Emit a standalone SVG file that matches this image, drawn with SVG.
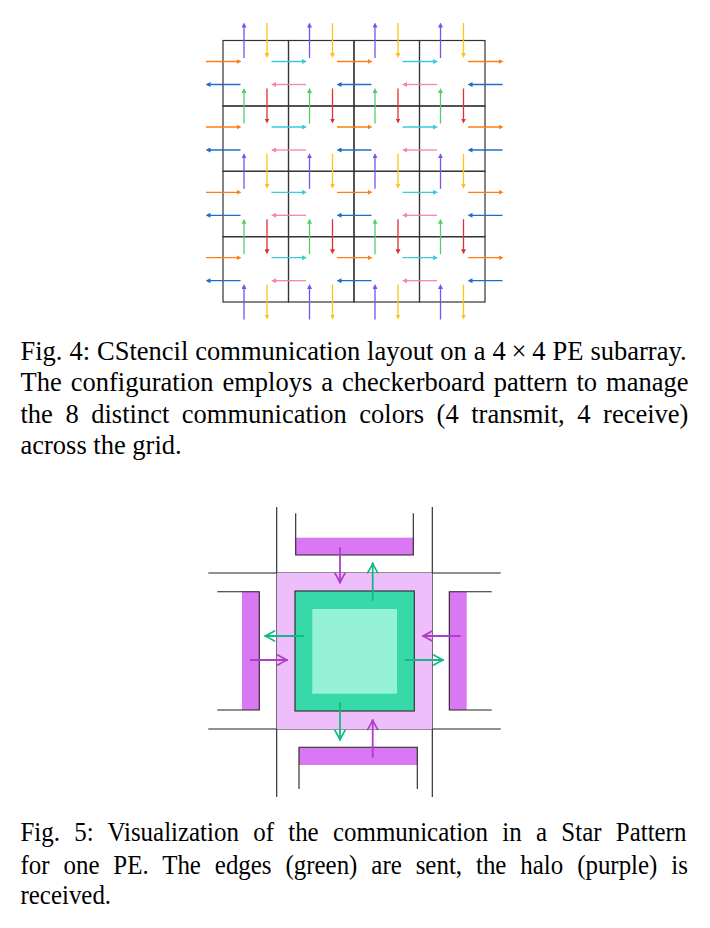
<svg xmlns="http://www.w3.org/2000/svg" width="710" height="928" viewBox="0 0 710 928">
<defs>
<marker id="m-pu" viewBox="0 0 5 5" refX="2" refY="2.5" markerWidth="5" markerHeight="5" markerUnits="userSpaceOnUse" orient="auto"><path d="M0,0 L5,2.5 L0,5 z" fill="#7950f2"/></marker>
<marker id="m-ye" viewBox="0 0 5 5" refX="2" refY="2.5" markerWidth="5" markerHeight="5" markerUnits="userSpaceOnUse" orient="auto"><path d="M0,0 L5,2.5 L0,5 z" fill="#fcc419"/></marker>
<marker id="m-gr" viewBox="0 0 5 5" refX="2" refY="2.5" markerWidth="5" markerHeight="5" markerUnits="userSpaceOnUse" orient="auto"><path d="M0,0 L5,2.5 L0,5 z" fill="#51cf66"/></marker>
<marker id="m-re" viewBox="0 0 5 5" refX="2" refY="2.5" markerWidth="5" markerHeight="5" markerUnits="userSpaceOnUse" orient="auto"><path d="M0,0 L5,2.5 L0,5 z" fill="#e03131"/></marker>
<marker id="m-or" viewBox="0 0 5 5" refX="2" refY="2.5" markerWidth="5" markerHeight="5" markerUnits="userSpaceOnUse" orient="auto"><path d="M0,0 L5,2.5 L0,5 z" fill="#fd7e14"/></marker>
<marker id="m-bl" viewBox="0 0 5 5" refX="2" refY="2.5" markerWidth="5" markerHeight="5" markerUnits="userSpaceOnUse" orient="auto"><path d="M0,0 L5,2.5 L0,5 z" fill="#1c6fc8"/></marker>
<marker id="m-cy" viewBox="0 0 5 5" refX="2" refY="2.5" markerWidth="5" markerHeight="5" markerUnits="userSpaceOnUse" orient="auto"><path d="M0,0 L5,2.5 L0,5 z" fill="#3bc9db"/></marker>
<marker id="m-pi" viewBox="0 0 5 5" refX="2" refY="2.5" markerWidth="5" markerHeight="5" markerUnits="userSpaceOnUse" orient="auto"><path d="M0,0 L5,2.5 L0,5 z" fill="#f783ac"/></marker>
<marker id="v-g" viewBox="-11 -6 12 12" refX="0" refY="0" markerWidth="12" markerHeight="12" markerUnits="userSpaceOnUse" orient="auto"><path d="M-9.5,-5 Q-3,-1.2 0,0 Q-3,1.2 -9.5,5" fill="none" stroke="#12b886" stroke-width="1.7" stroke-linecap="round"/></marker>
<marker id="v-p" viewBox="-11 -6 12 12" refX="0" refY="0" markerWidth="12" markerHeight="12" markerUnits="userSpaceOnUse" orient="auto"><path d="M-9.5,-5 Q-3,-1.2 0,0 Q-3,1.2 -9.5,5" fill="none" stroke="#ae3ec9" stroke-width="1.7" stroke-linecap="round"/></marker>
</defs>
<style>
.pe rect{fill:none;stroke:#333;stroke-width:1.2}
.c4 line{stroke-width:1.3;fill:none}
.pu{stroke:#7950f2;marker-end:url(#m-pu)}
.ye{stroke:#fcc419;marker-end:url(#m-ye)}
.gr{stroke:#51cf66;marker-end:url(#m-gr)}
.re{stroke:#e03131;marker-end:url(#m-re)}
.or{stroke:#fd7e14;marker-end:url(#m-or)}
.bl{stroke:#1c6fc8;marker-end:url(#m-bl)}
.cy{stroke:#3bc9db;marker-end:url(#m-cy)}
.pi{stroke:#f783ac;marker-end:url(#m-pi)}
.cap{font-family:"Liberation Serif","Times New Roman",serif;fill:#000}
.cap4{font-size:26.5px}
.cap5{font-size:28px}
.ln{stroke:#222;stroke-width:1.1;fill:none}
.halo{fill:#eebefa}
.hp{fill:#da77f2}
.edge{fill:#38d9a9;stroke:#333;stroke-width:1.2}
.inner{fill:#96f2d7}
.c5 line{stroke-width:1.8;fill:none}
.ag{stroke:#12b886;marker-end:url(#v-g)}
.ap{stroke:#ae3ec9;marker-end:url(#v-p)}
</style>
<rect width="710" height="928" fill="#fff"/>

<!-- Fig 4: 4x4 PE grid -->
<g id="fig4-grid">
<g id="pe-0-0" class="pe"><rect x="223" y="40.5" width="65.5" height="65.5"/></g>
<g id="pe-0-1" class="pe"><rect x="288.5" y="40.5" width="65.5" height="65.5"/></g>
<g id="pe-0-2" class="pe"><rect x="354" y="40.5" width="65.5" height="65.5"/></g>
<g id="pe-0-3" class="pe"><rect x="419.5" y="40.5" width="65.5" height="65.5"/></g>
<g id="pe-1-0" class="pe"><rect x="223" y="106" width="65.5" height="65.3"/></g>
<g id="pe-1-1" class="pe"><rect x="288.5" y="106" width="65.5" height="65.3"/></g>
<g id="pe-1-2" class="pe"><rect x="354" y="106" width="65.5" height="65.3"/></g>
<g id="pe-1-3" class="pe"><rect x="419.5" y="106" width="65.5" height="65.3"/></g>
<g id="pe-2-0" class="pe"><rect x="223" y="171.3" width="65.5" height="65.4"/></g>
<g id="pe-2-1" class="pe"><rect x="288.5" y="171.3" width="65.5" height="65.4"/></g>
<g id="pe-2-2" class="pe"><rect x="354" y="171.3" width="65.5" height="65.4"/></g>
<g id="pe-2-3" class="pe"><rect x="419.5" y="171.3" width="65.5" height="65.4"/></g>
<g id="pe-3-0" class="pe"><rect x="223" y="236.7" width="65.5" height="65.3"/></g>
<g id="pe-3-1" class="pe"><rect x="288.5" y="236.7" width="65.5" height="65.3"/></g>
<g id="pe-3-2" class="pe"><rect x="354" y="236.7" width="65.5" height="65.3"/></g>
<g id="pe-3-3" class="pe"><rect x="419.5" y="236.7" width="65.5" height="65.3"/></g>
</g>

<g id="fig4-connectors" class="c4">
<!-- purple up -->
<line class="pu" x1="244" y1="58" x2="244" y2="25.5"/><line class="pu" x1="309.5" y1="58" x2="309.5" y2="25.5"/><line class="pu" x1="375" y1="58" x2="375" y2="25.5"/><line class="pu" x1="440.5" y1="58" x2="440.5" y2="25.5"/>
<line class="pu" x1="244" y1="188.8" x2="244" y2="156.3"/><line class="pu" x1="309.5" y1="188.8" x2="309.5" y2="156.3"/><line class="pu" x1="375" y1="188.8" x2="375" y2="156.3"/><line class="pu" x1="440.5" y1="188.8" x2="440.5" y2="156.3"/>
<line class="pu" x1="244" y1="319.5" x2="244" y2="287"/><line class="pu" x1="309.5" y1="319.5" x2="309.5" y2="287"/><line class="pu" x1="375" y1="319.5" x2="375" y2="287"/><line class="pu" x1="440.5" y1="319.5" x2="440.5" y2="287"/>
<!-- yellow down -->
<line class="ye" x1="267" y1="23" x2="267" y2="55"/><line class="ye" x1="332.5" y1="23" x2="332.5" y2="55"/><line class="ye" x1="398" y1="23" x2="398" y2="55"/><line class="ye" x1="463.5" y1="23" x2="463.5" y2="55"/>
<line class="ye" x1="267" y1="153.8" x2="267" y2="185.8"/><line class="ye" x1="332.5" y1="153.8" x2="332.5" y2="185.8"/><line class="ye" x1="398" y1="153.8" x2="398" y2="185.8"/><line class="ye" x1="463.5" y1="153.8" x2="463.5" y2="185.8"/>
<line class="ye" x1="267" y1="284.5" x2="267" y2="316.5"/><line class="ye" x1="332.5" y1="284.5" x2="332.5" y2="316.5"/><line class="ye" x1="398" y1="284.5" x2="398" y2="316.5"/><line class="ye" x1="463.5" y1="284.5" x2="463.5" y2="316.5"/>
<!-- green up -->
<line class="gr" x1="244" y1="123.5" x2="244" y2="91"/><line class="gr" x1="309.5" y1="123.5" x2="309.5" y2="91"/><line class="gr" x1="375" y1="123.5" x2="375" y2="91"/><line class="gr" x1="440.5" y1="123.5" x2="440.5" y2="91"/>
<line class="gr" x1="244" y1="254.2" x2="244" y2="221.7"/><line class="gr" x1="309.5" y1="254.2" x2="309.5" y2="221.7"/><line class="gr" x1="375" y1="254.2" x2="375" y2="221.7"/><line class="gr" x1="440.5" y1="254.2" x2="440.5" y2="221.7"/>
<!-- red down -->
<line class="re" x1="267" y1="88.5" x2="267" y2="120.5"/><line class="re" x1="332.5" y1="88.5" x2="332.5" y2="120.5"/><line class="re" x1="398" y1="88.5" x2="398" y2="120.5"/><line class="re" x1="463.5" y1="88.5" x2="463.5" y2="120.5"/>
<line class="re" x1="267" y1="219.2" x2="267" y2="251.2"/><line class="re" x1="332.5" y1="219.2" x2="332.5" y2="251.2"/><line class="re" x1="398" y1="219.2" x2="398" y2="251.2"/><line class="re" x1="463.5" y1="219.2" x2="463.5" y2="251.2"/>
<!-- orange right -->
<line class="or" x1="206" y1="61.5" x2="238.5" y2="61.5"/><line class="or" x1="206" y1="127" x2="238.5" y2="127"/><line class="or" x1="206" y1="192.3" x2="238.5" y2="192.3"/><line class="or" x1="206" y1="257.7" x2="238.5" y2="257.7"/>
<line class="or" x1="337" y1="61.5" x2="369.5" y2="61.5"/><line class="or" x1="337" y1="127" x2="369.5" y2="127"/><line class="or" x1="337" y1="192.3" x2="369.5" y2="192.3"/><line class="or" x1="337" y1="257.7" x2="369.5" y2="257.7"/>
<line class="or" x1="468" y1="61.5" x2="500.5" y2="61.5"/><line class="or" x1="468" y1="127" x2="500.5" y2="127"/><line class="or" x1="468" y1="192.3" x2="500.5" y2="192.3"/><line class="or" x1="468" y1="257.7" x2="500.5" y2="257.7"/>
<!-- blue left -->
<line class="bl" x1="240.5" y1="84.5" x2="208.5" y2="84.5"/><line class="bl" x1="240.5" y1="150" x2="208.5" y2="150"/><line class="bl" x1="240.5" y1="215.3" x2="208.5" y2="215.3"/><line class="bl" x1="240.5" y1="280.7" x2="208.5" y2="280.7"/>
<line class="bl" x1="371.5" y1="84.5" x2="339.5" y2="84.5"/><line class="bl" x1="371.5" y1="150" x2="339.5" y2="150"/><line class="bl" x1="371.5" y1="215.3" x2="339.5" y2="215.3"/><line class="bl" x1="371.5" y1="280.7" x2="339.5" y2="280.7"/>
<line class="bl" x1="502.5" y1="84.5" x2="470.5" y2="84.5"/><line class="bl" x1="502.5" y1="150" x2="470.5" y2="150"/><line class="bl" x1="502.5" y1="215.3" x2="470.5" y2="215.3"/><line class="bl" x1="502.5" y1="280.7" x2="470.5" y2="280.7"/>
<!-- cyan right -->
<line class="cy" x1="271.5" y1="61.5" x2="304" y2="61.5"/><line class="cy" x1="271.5" y1="127" x2="304" y2="127"/><line class="cy" x1="271.5" y1="192.3" x2="304" y2="192.3"/><line class="cy" x1="271.5" y1="257.7" x2="304" y2="257.7"/>
<line class="cy" x1="402.5" y1="61.5" x2="435" y2="61.5"/><line class="cy" x1="402.5" y1="127" x2="435" y2="127"/><line class="cy" x1="402.5" y1="192.3" x2="435" y2="192.3"/><line class="cy" x1="402.5" y1="257.7" x2="435" y2="257.7"/>
<!-- pink left -->
<line class="pi" x1="306" y1="84.5" x2="274" y2="84.5"/><line class="pi" x1="306" y1="150" x2="274" y2="150"/><line class="pi" x1="306" y1="215.3" x2="274" y2="215.3"/><line class="pi" x1="306" y1="280.7" x2="274" y2="280.7"/>
<line class="pi" x1="437" y1="84.5" x2="405" y2="84.5"/><line class="pi" x1="437" y1="150" x2="405" y2="150"/><line class="pi" x1="437" y1="215.3" x2="405" y2="215.3"/><line class="pi" x1="437" y1="280.7" x2="405" y2="280.7"/>
</g>

<g id="fig4-caption" class="cap cap4">
<text x="20.5" y="359.5" word-spacing="0.35">Fig. 4: CStencil communication layout on a 4<tspan dx="5.8">×</tspan><tspan dx="5.8">4</tspan> PE subarray.</text>
<text x="20.5" y="391.2" word-spacing="2.39">The configuration employs a checkerboard pattern to manage</text>
<text x="20.5" y="422.8" word-spacing="5.94">the 8 distinct communication colors (4 transmit, 4 receive)</text>
<text x="20.5" y="454.4">across the grid.</text>
</g>

<!-- Fig 5: star pattern -->
<g id="fig5-gridlines">
<line class="ln" x1="276.7" y1="507" x2="276.7" y2="797"/>
<line class="ln" x1="432.3" y1="507" x2="432.3" y2="797"/>
<line class="ln" x1="208.3" y1="573" x2="500.7" y2="573"/>
<line class="ln" x1="208.3" y1="729" x2="500.7" y2="729"/>
</g>
<g id="pe-center">
<rect class="halo" x="276.7" y="573" width="155.6" height="156"/>
<rect class="edge" x="295" y="591" width="119.3" height="120"/>
<rect class="inner" x="312.3" y="609" width="84.7" height="84.7"/>
</g>
<g id="pe-north">
<rect class="hp" x="295.7" y="537.7" width="117.6" height="17.3"/>
<polyline class="ln" points="295.7,513.3 295.7,555 413.3,555 413.3,513.3"/>
</g>
<g id="pe-south">
<rect class="hp" x="299" y="747.3" width="118.3" height="17.7"/>
<polyline class="ln" points="299,789 299,747.3 417.3,747.3 417.3,789"/>
</g>
<g id="pe-west">
<rect class="hp" x="242" y="591.7" width="17.3" height="118.3"/>
<polyline class="ln" points="217.3,591.7 259.3,591.7 259.3,710 217.3,710"/>
</g>
<g id="pe-east">
<rect class="hp" x="449.3" y="591.7" width="17.4" height="118.3"/>
<polyline class="ln" points="491.7,591.7 449.3,591.7 449.3,710 491.7,710"/>
</g>
<g id="fig5-connectors" class="c5">
<line class="ap" x1="340" y1="547.3" x2="340" y2="582.7"/>
<line class="ag" x1="372.7" y1="600.7" x2="372.7" y2="563.3"/>
<line class="ag" x1="304.3" y1="636" x2="265" y2="636"/>
<line class="ap" x1="250" y1="660" x2="287.3" y2="660"/>
<line class="ap" x1="460.7" y1="636" x2="422.7" y2="636"/>
<line class="ag" x1="405" y1="660" x2="443.3" y2="660"/>
<line class="ag" x1="340" y1="702.3" x2="340" y2="740"/>
<line class="ap" x1="372.7" y1="757.7" x2="372.7" y2="720"/>
</g>

<g id="fig5-caption" class="cap cap5" transform="scale(0.89,1)">
<text x="23.03" y="841" word-spacing="9.08">Fig. 5: Visualization of the communication in a Star Pattern</text>
<text x="23.03" y="874" word-spacing="8.65">for one PE. The edges (green) are sent, the halo (purple) is</text>
<text x="23.03" y="904.5">received.</text>
</g>
</svg>
